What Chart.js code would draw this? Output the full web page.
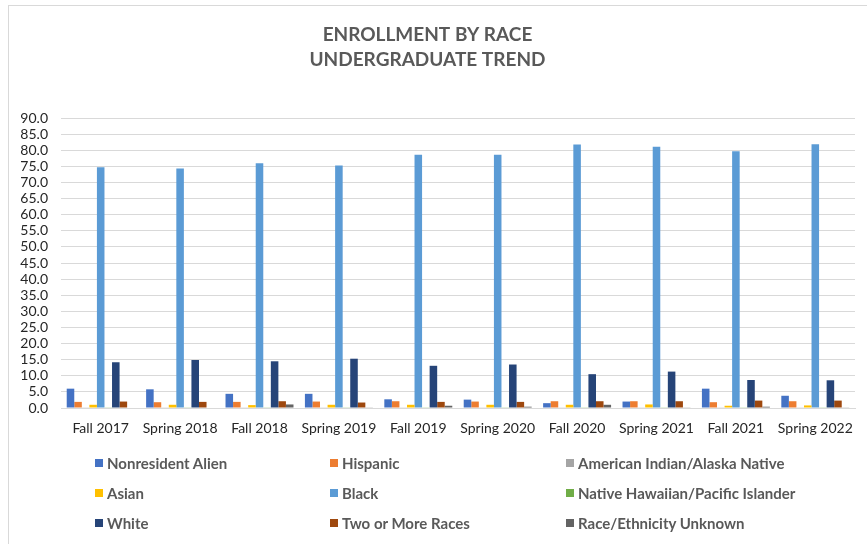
<!DOCTYPE html>
<html>
<head>
<meta charset="utf-8">
<script src="https://cdn.jsdelivr.net/npm/chart.js@4"></script>
<style>
  html, body { margin: 0; padding: 0; background: #fff; }
  #wrap { position: relative; width: 867px; height: 544px; overflow: hidden; }
  #frame { position: absolute; left: 8px; top: 5px; width: 900px; height: 600px;
           border-left: 1px solid #d9d9d9; border-top: 1px solid #d9d9d9; box-sizing: border-box; }
  canvas { position: absolute; left: 0; top: 0; }
  #legend { position: absolute; left: 95px; top: 448px; display: grid;
            grid-template-columns: 235px 236px 260px; grid-auto-rows: 30px;
            font-family: Lato, "Open Sans", sans-serif; font-weight: bold; font-size: 15px; color: #595959; }
  .item { display: flex; align-items: center; white-space: nowrap; }
  .sw { width: 8px; height: 8px; margin-right: 4px; flex: none; }
</style>
</head>
<body>
<div id="wrap">
  <div id="frame"></div>
  <canvas id="c" width="867" height="544"></canvas>
  <div id="legend"></div>
</div>
<script>
const categories = ['Fall 2017','Spring 2018','Fall 2018','Spring 2019','Fall 2019','Spring 2020','Fall 2020','Spring 2021','Fall 2021','Spring 2022'];
const nonresidentAlien = [6.0, 5.8, 4.4, 4.4, 2.7, 2.6, 1.5, 2.0, 6.0, 3.8];
const hispanic         = [1.9, 1.8, 1.9, 2.0, 2.1, 2.0, 2.1, 2.1, 1.8, 2.1];
const americanIndian   = [0.1, 0.1, 0.1, 0.1, 0.1, 0.1, 0.1, 0.1, 0.1, 0.1];
const asian            = [1.0, 1.0, 0.9, 1.0, 1.0, 1.0, 1.0, 1.1, 0.7, 0.8];
const black            = [74.7, 74.3, 76.0, 75.3, 78.6, 78.6, 81.8, 81.1, 79.7, 81.9];
const nativeHawaiian   = [0.1, 0.1, 0.1, 0.1, 0.1, 0.1, 0.1, 0.1, 0.1, 0.1];
const white            = [14.2, 14.9, 14.5, 15.3, 13.1, 13.5, 10.5, 11.3, 8.7, 8.6];
const twoOrMore        = [2.0, 1.9, 2.1, 1.7, 1.9, 1.9, 2.1, 2.1, 2.3, 2.3];
const unknown          = [0.0, 0.0, 1.1, 0.2, 0.7, 0.4, 1.0, 0.2, 0.4, 0.2];

const seriesNames = ['Nonresident Alien','Hispanic','American Indian/Alaska Native','Asian','Black','Native Hawaiian/Pacific Islander','White','Two or More Races','Race/Ethnicity Unknown'];
const seriesValues = [nonresidentAlien, hispanic, americanIndian, asian, black, nativeHawaiian, white, twoOrMore, unknown];
const seriesColors = ['#4472C4','#ED7D31','#A5A5A5','#FFC000','#5B9BD5','#70AD47','#264478','#9E480E','#636363'];
const titleLines = ['ENROLLMENT BY RACE', 'UNDERGRADUATE TREND'];

const datasets = seriesNames.map((n, i) => ({
  label: n,
  data: seriesValues[i],
  backgroundColor: seriesColors[i],
  borderWidth: 0,
  categoryPercentage: 0.856,
  barPercentage: 1.0
}));

new Chart(document.getElementById('c'), {
  type: 'bar',
  data: { labels: categories, datasets },
  options: {
    responsive: false,
    animation: false,
    layout: { padding: { left: 0, right: 12, top: 0, bottom: 106 } },
    plugins: {
      legend: { display: false },
      tooltip: { enabled: false },
      title: {
        display: true,
        text: titleLines,
        color: '#595959',
        font: { family: 'Lato', size: 19, weight: 'bold', lineHeight: 1.33 },
        padding: { top: 22, bottom: 45.5 }
      }
    },
    scales: {
      x: {
        afterFit: s => { s.height = 30; },
        grid: { display: false, drawTicks: false },
        border: { display: true, color: '#d9d9d9' },
        ticks: { color: '#262626', padding: 12, maxRotation: 0, autoSkip: false,
                 font: { family: 'Lato', size: 14 } }
      },
      y: {
        min: 0, max: 90,
        afterFit: s => { s.width = 61; },
        grid: { color: '#d9d9d9', lineWidth: 1, drawTicks: false },
        border: { display: false },
        ticks: { stepSize: 5, padding: 13, color: '#262626', autoSkip: false,
                 font: { family: 'Lato', size: 14 },
                 callback: v => Number(v).toFixed(1) }
      }
    }
  }
});

const lg = document.getElementById('legend');
seriesNames.forEach((n, i) => {
  const d = document.createElement('div');
  d.className = 'item';
  const sw = document.createElement('span');
  sw.className = 'sw';
  sw.style.background = seriesColors[i];
  const t = document.createElement('span');
  t.textContent = n;
  d.appendChild(sw); d.appendChild(t);
  lg.appendChild(d);
});
</script>
</body>
</html>
